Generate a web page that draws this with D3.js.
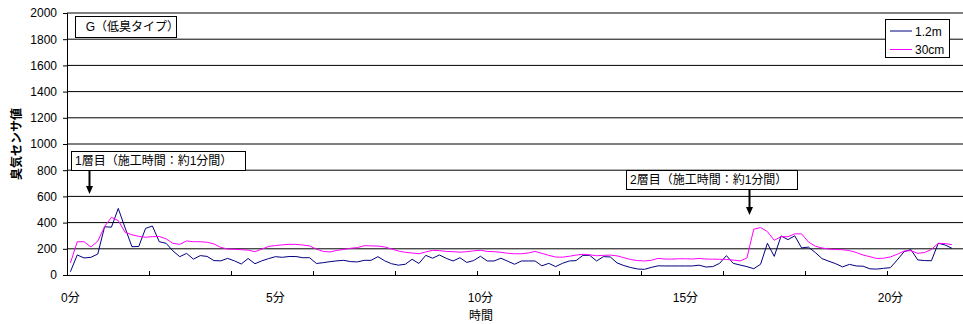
<!DOCTYPE html>
<html>
<head>
<meta charset="utf-8">
<script src="https://cdn.jsdelivr.net/npm/d3@7/dist/d3.min.js"></script>
<style>
  html, body { margin: 0; padding: 0; background: #fff; }
  svg { display: block; font-family: "Liberation Sans", Arial, "Noto Sans CJK JP", sans-serif; }
</style>
</head>
<body>
<svg id="chart" width="963" height="324"></svg>
<script>
// Odour sensor readings sampled every 10 seconds (category index = sample number)
const seriesNames = ["1.2m", "30cm"];
const seriesColors = ["#000080", "#ff00ff"];

const sensor12m = [
  25, 153, 130, 135, 160, 368, 365, 508, 360, 216,
  218, 356, 374, 254, 242, 184, 140, 165, 121, 148,
  142, 110, 108, 127, 108, 84, 126, 86, 108, 125,
  140, 135, 141, 141, 132, 132, 88, 94, 102, 108,
  112, 102, 100, 112, 112, 140, 108, 86, 75, 82,
  120, 88, 150, 128, 153, 127, 107, 132, 96, 110,
  143, 107, 107, 128, 105, 82, 107, 107, 107, 70,
  89, 64, 89, 107, 110, 150, 150, 107, 140, 138,
  92, 72, 57, 46, 43, 58, 70, 69, 69, 69,
  69, 69, 75, 61, 64, 89, 148, 89, 76, 64,
  48, 82, 242, 142, 298, 270, 299, 207, 213, 172,
  125, 105, 86, 62, 81, 69, 67, 47, 45, 51,
  56, 115, 178, 194, 115, 110, 109, 242, 229, 204
];

const sensor30cm = [
  92, 254, 254, 214, 258, 370, 440, 416, 326, 307,
  295, 288, 293, 294, 276, 242, 234, 260, 254, 254,
  250, 237, 211, 198, 196, 193, 190, 178, 197, 218,
  225, 230, 234, 234, 229, 222, 198, 180, 176, 188,
  195, 204, 209, 224, 222, 221, 214, 198, 183, 173,
  168, 162, 176, 188, 186, 180, 178, 174, 178, 184,
  189, 180, 178, 173, 166, 162, 162, 168, 180, 165,
  150, 137, 136, 143, 152, 158, 154, 147, 150, 152,
  146, 132, 118, 110, 107, 112, 127, 122, 121, 124,
  124, 122, 126, 122, 121, 120, 119, 114, 107, 130,
  350, 362, 331, 265, 293, 292, 314, 314, 252, 220,
  206, 198, 194, 193, 186, 172, 152, 140, 126, 128,
  138, 158, 183, 186, 165, 172, 195, 242, 240, 232
];

// Axis tick values / labels
const yTicks = [0, 200, 400, 600, 800, 1000, 1200, 1400, 1600, 1800, 2000];
const xLabelCategories = [0, 30, 60, 90, 120];
const xLabels = ["0分", "5分", "10分", "15分", "20分"];
const xTickCategories = [0, 12, 24, 36, 48, 60, 72, 84, 96, 108, 120, 132];

const svg = d3.select("#chart");
const W = 963;
const plotLeft = 67, plotTop = 13, plotBottom = 275;
const step = 41 / 6;               // pixels per 10-second sample
const nCats = 132;

const x = d3.scaleLinear().domain([0, nCats]).range([plotLeft, plotLeft + nCats * step]);
const y = d3.scaleLinear().domain([0, 2000]).range([plotBottom, plotTop]);

// horizontal gridlines
svg.append("g")
  .selectAll("line")
  .data(yTicks.filter(v => v > 0))
  .join("line")
  .attr("x1", plotLeft).attr("x2", W)
  .attr("y1", d => y(d)).attr("y2", d => y(d))
  .attr("stroke", "#000").attr("stroke-width", 1);

// y axis
const yAxis = svg.append("g")
  .attr("transform", `translate(${plotLeft},0)`)
  .call(d3.axisLeft(y).tickValues(yTicks).tickSize(4).tickPadding(6).tickFormat(d3.format("d")));
yAxis.select(".domain").attr("stroke", "#000");
yAxis.selectAll("text").attr("font-size", 12).attr("fill", "#000")
  .attr("font-family", "Liberation Sans, Arial, sans-serif");

// x axis: tick marks every 2 minutes
const xAxis = svg.append("g")
  .attr("transform", `translate(0,${plotBottom})`)
  .call(d3.axisBottom(x).tickValues(xTickCategories).tickSizeInner(-4).tickSizeOuter(0).tickFormat(""));
xAxis.select(".domain").attr("d", `M${plotLeft},0.5H${W}`).attr("stroke", "#000");

// x labels every 5 minutes, centred on their category
svg.append("g")
  .selectAll("text")
  .data(xLabelCategories)
  .join("text")
  .attr("x", d => x(d + 0.5))
  .attr("y", 302)
  .attr("text-anchor", "middle")
  .attr("font-size", 12)
  .text((d, i) => xLabels[i]);

// axis titles
svg.append("text")
  .attr("x", 481).attr("y", 320)
  .attr("text-anchor", "middle")
  .attr("font-size", 12)
  .text("時間");

svg.append("text")
  .attr("transform", `translate(21,${(plotTop + plotBottom) / 2}) rotate(-90)`)
  .attr("text-anchor", "middle")
  .attr("font-size", 12)
  .attr("font-weight", "bold")
  .text("臭気センサ値");

// data lines
const line = d3.line()
  .x((d, i) => x(i + 0.5))
  .y(d => y(d));

[sensor12m, sensor30cm].forEach((vals, k) => {
  svg.append("path")
    .datum(vals)
    .attr("fill", "none")
    .attr("stroke", seriesColors[k])
    .attr("stroke-width", 1)
    .attr("stroke-linejoin", "round")
    .attr("d", line);
});

// boxed text notes
function note(x0, y0, w, h, label) {
  const g = svg.append("g");
  g.append("rect")
    .attr("x", x0 + 0.5).attr("y", y0 + 0.5)
    .attr("width", w).attr("height", h)
    .attr("fill", "#fff").attr("stroke", "#000");
  g.append("text")
    .attr("x", x0 + 4).attr("y", y0 + h / 2 + 4.5)
    .attr("font-size", 12)
    .attr("xml:space", "preserve")
    .text(label);
}
function arrow(ax, y1, y2) {
  svg.append("line")
    .attr("x1", ax).attr("x2", ax)
    .attr("y1", y1).attr("y2", y2 - 6)
    .attr("stroke", "#000").attr("stroke-width", 2);
  svg.append("path")
    .attr("d", `M${ax - 3.5},${y2 - 8}L${ax + 3.5},${y2 - 8}L${ax},${y2}Z`)
    .attr("fill", "#000");
}

note(75, 16, 101, 21, "  G（低臭タイプ）");
note(71, 151, 174, 19, "1層目（施工時間：約1分間）");
arrow(89.5, 171, 194);
note(626, 170, 171, 19, "2層目（施工時間：約1分間）");
arrow(749.5, 190, 215);

// legend
const lg = svg.append("g");
lg.append("rect")
  .attr("x", 885.5).attr("y", 19.5).attr("width", 64).attr("height", 38)
  .attr("fill", "#fff").attr("stroke", "#000");
seriesNames.forEach((name, k) => {
  const ly = 31 + k * 18.5;
  lg.append("line")
    .attr("x1", 890).attr("x2", 912)
    .attr("y1", ly).attr("y2", ly)
    .attr("stroke", seriesColors[k]).attr("stroke-width", 1);
  lg.append("text")
    .attr("x", 915).attr("y", ly + 4.5)
    .attr("font-size", 12)
    .text(name);
});
</script>
</body>
</html>
